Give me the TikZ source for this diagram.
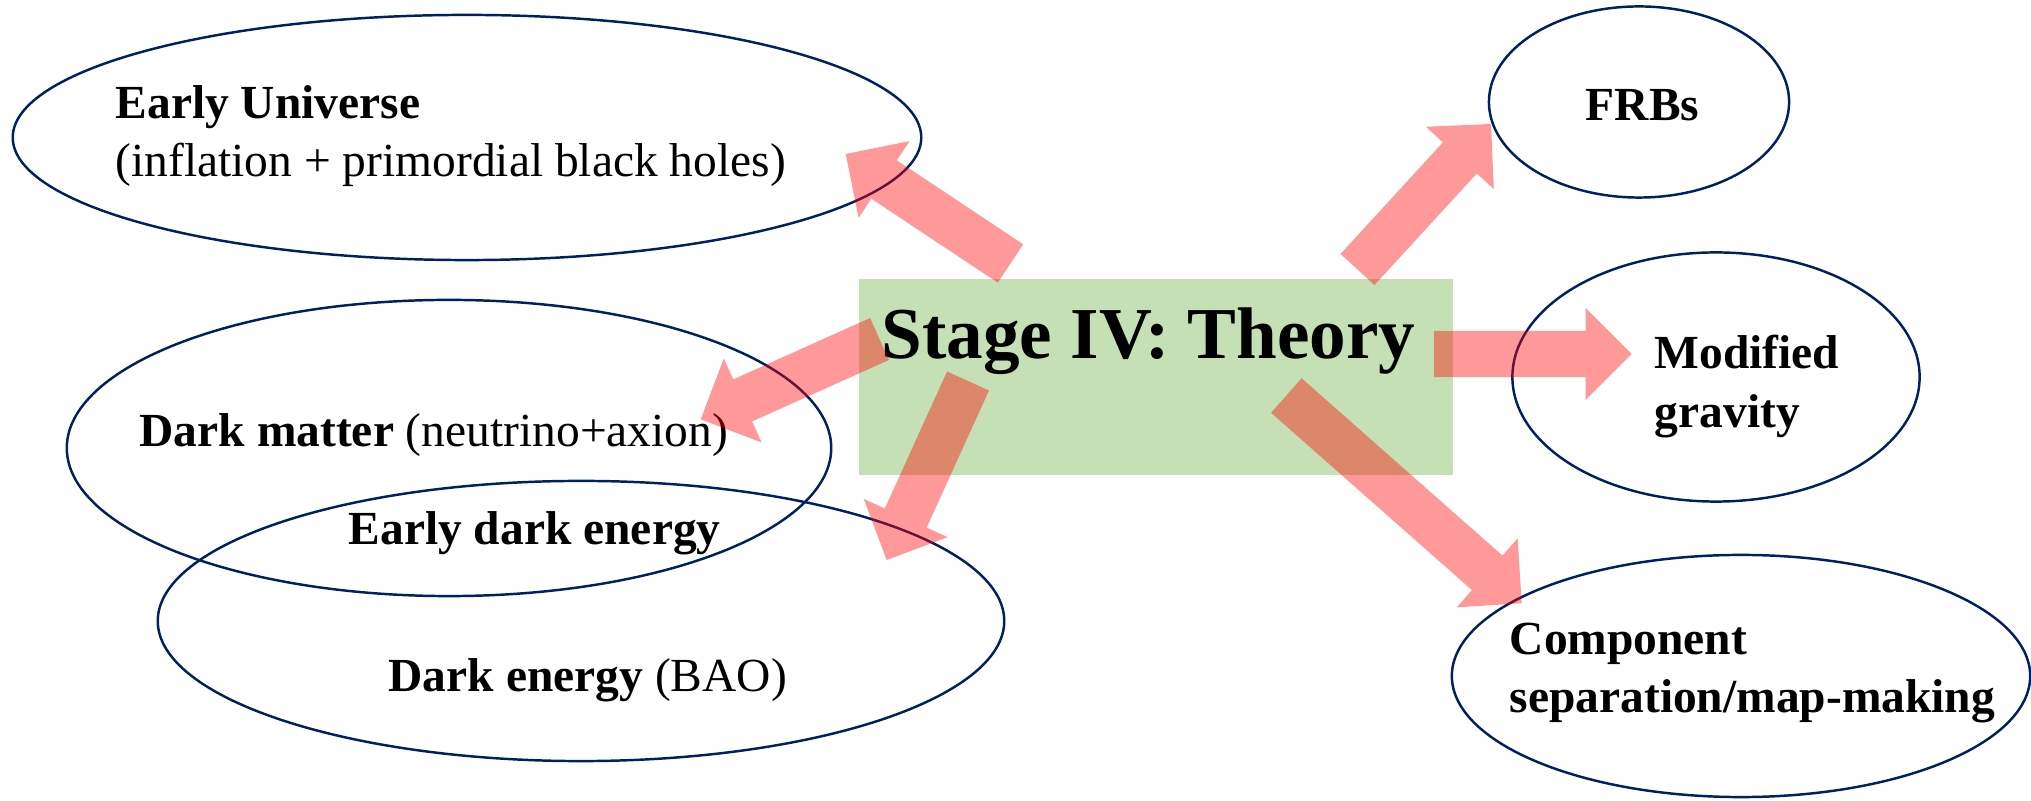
\documentclass[tikz,border=0pt]{standalone}
\usepackage{fontspec}
\setmainfont{Liberation Serif}
\usetikzlibrary{calc,shapes.geometric}
\definecolor{navyline}{RGB}{0,32,96}
\definecolor{boxgreen}{RGB}{197,224,180}
\tikzset{
  oval/.style={ellipse, draw=navyline, line width=0.7pt, inner sep=0pt},
  lbl/.style={anchor=base west, inner sep=0pt, font=\fontsize{13.5}{16.5}\selectfont},
  arrowfill/.style={fill=red, fill opacity=0.4, draw=none},
}
\newcommand{\blockarrow}[2]{%
  \coordinate (ba-n) at ($(#2)!0.46cm!(#1)$);
  \fill[arrowfill] ($(#1)!0.23cm!90:(#2)$) -- ($(ba-n)!0.23cm!90:(#2)$) -- ($(ba-n)!0.46cm!90:(#2)$) -- (#2) -- ($(ba-n)!0.46cm!-90:(#2)$) -- ($(ba-n)!0.23cm!-90:(#2)$) -- ($(#1)!0.23cm!-90:(#2)$) -- cycle;
}
\begin{document}
\begin{tikzpicture}[x=0.01cm,y=-0.01cm]
\useasboundingbox (0,0) rectangle (2031,801);
% ellipses
\node[oval, minimum width=9.08cm, minimum height=2.45cm] (eu) at (467,137.5) {};
\node[oval, minimum width=7.64cm, minimum height=2.96cm] (dm) at (449,448) {};
\node[oval, minimum width=8.46cm, minimum height=2.80cm] (de) at (581,621) {};
\node[oval, minimum width=3.00cm, minimum height=1.91cm] (frb) at (1639,102) {};
\node[oval, minimum width=4.07cm, minimum height=2.49cm] (mg) at (1716,377) {};
\node[oval, minimum width=5.78cm, minimum height=2.42cm] (cs) at (1741,676) {};
% central box
\node[fill=boxgreen, inner sep=0pt, minimum width=5.94cm, minimum height=1.96cm] (box) at (1156,377) {};
\node[anchor=base west, inner sep=0pt, font=\fontsize{20.8}{25}\selectfont\bfseries] (title) at (881,359) {Stage IV: Theory};
% labels
\node[lbl] (teu1) at (115,119) {\textbf{Early Universe}};
\node[lbl] (teu2) at (115,177) {(inflation + primordial black holes)};
\node[lbl] (tdm) at (139,447) {\textbf{Dark matter} (neutrino+axion)};
\node[lbl] (tede) at (348,545) {\textbf{Early dark energy}};
\node[lbl] (tde) at (388,692) {\textbf{Dark energy} (BAO)};
\node[lbl] (tfrb) at (1585,121) {\textbf{FRBs}};
\node[lbl] (tmg1) at (1654,369) {\textbf{Modified}};
\node[lbl] (tmg2) at (1654,428) {\textbf{gravity}};
\node[lbl] (tcs1) at (1509,655) {\textbf{Component}};
\node[lbl] (tcs2) at (1509,712) {\textbf{separation/map-making}};
% arrow end points
\coordinate (a1s) at (1010.5,263.5); \coordinate (a1e) at (845.7,154);
\coordinate (a2s) at (879.5,339);   \coordinate (a2e) at (700.7,419.3);
\coordinate (a3s) at (968,381);     \coordinate (a3e) at (886.7,560);
\coordinate (a4s) at (1357.5,269.5); \coordinate (a4e) at (1491,124);
\coordinate (a5s) at (1434,354);    \coordinate (a5e) at (1631.7,354);
\coordinate (a6s) at (1286.3,395.5); \coordinate (a6e) at (1521.7,603.3);
\blockarrow{a1s}{a1e}
\blockarrow{a2s}{a2e}
\blockarrow{a3s}{a3e}
\blockarrow{a4s}{a4e}
\blockarrow{a5s}{a5e}
\blockarrow{a6s}{a6e}
\end{tikzpicture}
\end{document}
